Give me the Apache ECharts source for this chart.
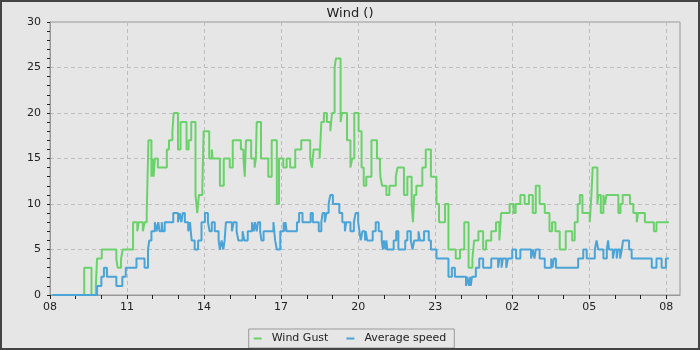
<!DOCTYPE html>
<html>
<head>
<meta charset="utf-8">
<script src="https://cdn.jsdelivr.net/npm/echarts@6.0.0/dist/echarts.min.js"></script>
<style>
  html, body { margin: 0; padding: 0; background: #e6e6e6; }
  #chart { width: 700px; height: 350px; }
</style>
</head>
<body>
<div id="chart"></div>
<script>
// minutes since 08:00, value in effect from that minute on
const gustPoints = [
  [6,0],[80,3],[97,0],[107,1],[110,4],[121,5],[155,4],[158,3],[166,4],[170,5],[194,8],[204,7],[207,8],[217,7],
  [221,8],[226,9],[228,13],[230,17],[237,13],[240,15],[242,13],[245,15],[252,14],[273,16],[278,17],[286,18],
  [289,20],[299,16],[305,19],[319,16],[324,17],[330,19],[340,11],[344,9],[348,11],[356,12],[359,18],[372,15],
  [378,16],[380,15],[397,12],[406,15],[420,14],[427,17],[446,16],[452,15],[455,13],[458,17],[470,15],[478,14],
  [481,15],[483,19],[493,15],[510,13],[518,17],[530,10],[535,15],[545,14],[553,15],[561,14],[573,16],[587,17],
  [608,15],[612,14],[616,16],[630,15],[634,19],[640,20],[647,19],[655,18],[659,20],[665,25],[668,26],[679,19],
  [682,20],[694,17],[702,14],[706,15],[711,20],[721,18],[728,14],[733,12],[739,13],[751,17],[764,15],[771,14],
  [772,13],[776,12],[786,11],[793,12],[808,13],[812,14],[827,11],[835,13],[845,10],[848,8],[851,11],[856,12],
  [870,14],[878,16],[890,13],[903,10],[909,8],[923,10],[931,5],[948,4],[958,5],[968,8],[978,3],[987,4],[991,6],
  [1001,7],[1012,5],[1019,6],[1031,7],[1042,8],[1050,6],[1054,9],[1074,10],[1083,9],[1088,10],[1099,11],
  [1109,10],[1119,11],[1128,9],[1135,12],[1144,10],[1156,9],[1167,7],[1173,8],[1181,7],[1191,5],[1205,7],
  [1220,6],[1226,8],[1233,10],[1238,11],[1244,9],[1261,8],[1265,11],[1268,14],[1279,10],[1281,11],[1287,9],
  [1293,11],[1297,10],[1300,11],[1328,9],[1333,10],[1338,11],[1355,10],[1363,9],[1371,8],[1374,9],[1390,8],
  [1411,7],[1417,8],[1446,8]
];

const avgPoints = [
  [6,0],[110,1],[120,2],[126,3],[133,2],[155,1],[169,2],[177,3],[202,4],[221,3],[229,5],[232,6],[237,7],[245,8],
  [249,7],[253,8],[256,7],[261,8],[263,7],[268,8],[288,9],[299,8],[303,9],[307,8],[310,9],[315,8],[323,7],[327,8],
  [331,6],[338,5],[346,6],[354,8],[362,9],[369,8],[373,7],[378,8],[385,7],[394,6],[397,5],[401,6],[405,5],[408,6],
  [411,8],[425,7],[429,8],[436,7],[440,6],[450,7],[454,6],[462,7],[472,8],[476,7],[479,8],[483,7],[486,8],[491,7],
  [494,6],[499,7],[522,8],[526,6],[530,5],[538,7],[546,8],[548,7],[550,8],[553,7],[577,8],[582,9],[590,8],[609,9],
  [614,8],[628,7],[634,8],[637,9],[642,8],[646,9],[651,10],[655,11],[661,10],[676,9],[683,8],[689,7],[692,8],
  [702,7],[710,8],[714,9],[720,8],[723,7],[726,6],[730,7],[736,6],[738,7],[741,6],[754,7],[761,8],[768,7],[775,6],
  [778,5],[780,6],[784,5],[786,6],[788,5],[803,6],[809,7],[814,5],[830,6],[835,7],[843,6],[847,5],[851,6],[861,7],
  [864,6],[874,7],[885,6],[890,5],[903,4],[931,2],[939,3],[946,2],[972,1],[975,2],[979,1],[982,2],[983,1],[986,2],
  [995,3],[1003,4],[1012,3],[1031,4],[1047,3],[1050,4],[1055,3],[1058,4],[1066,3],[1070,4],[1080,5],[1089,4],
  [1099,5],[1124,4],[1128,5],[1132,4],[1135,5],[1144,4],[1156,3],[1171,4],[1174,3],[1177,4],[1182,3],[1234,4],
  [1246,5],[1254,4],[1273,5],[1277,6],[1281,5],[1293,4],[1301,5],[1304,6],[1306,5],[1315,4],[1319,5],[1324,4],
  [1327,5],[1332,4],[1336,5],[1339,6],[1353,5],[1359,4],[1406,3],[1417,4],[1429,3],[1439,4],[1446,4]
];

const seriesNames = ['Wind Gust', 'Average speed'];
const startHour = 8;
const hourTicks = [];
for (let m = 0; m <= 1440; m += 60) hourTicks.push(m);

const gridDash = { color: '#bdbdbd', type: [4, 3] };

const chart = echarts.init(document.getElementById('chart'), null, { renderer: 'canvas' });

chart.setOption({
  animation: false,
  backgroundColor: '#e6e6e6',
  textStyle: { fontFamily: 'DejaVu Sans', color: '#222' },
  graphic: [{
    type: 'rect',
    shape: { x: 1, y: 1, width: 698, height: 348 },
    style: { fill: 'none', stroke: '#444', lineWidth: 2 },
    z: 100
  }],
  title: {
    text: 'Wind ()',
    left: 'center',
    top: 2,
    textStyle: { fontSize: 13, fontWeight: 'normal', color: '#222', fontFamily: 'DejaVu Sans' }
  },
  legend: {
    bottom: 2,
    left: 'center',
    icon: 'rect',
    itemWidth: 8,
    itemHeight: 2,
    itemGap: 18,
    padding: [4, 8, 4, 5],
    borderColor: '#999',
    borderWidth: 1,
    borderRadius: 0,
    textStyle: { fontSize: 11, color: '#222', padding: [0, 0, 0, 5] },
    data: seriesNames
  },
  grid: {
    left: 50, right: 20, top: 22, bottom: 55,
    show: true,
    borderColor: '#999',
    borderWidth: 1,
    backgroundColor: 'transparent'
  },
  xAxis: [
    {
      type: 'value',
      min: 0,
      max: 1472,
      interval: 180,
      axisLine: { show: true, lineStyle: { color: '#999' } },
      axisTick: { show: true, length: 4, customValues: hourTicks, lineStyle: { color: '#222' } },
      axisLabel: {
        fontSize: 11,
        color: '#222',
        margin: 7,
        showMaxLabel: false,
        formatter: (v) => {
          if (v % 180 !== 0) return '';
          const h = (startHour + v / 60) % 24;
          return String(h).padStart(2, '0');
        }
      },
      splitLine: { show: false }
    },
    {
      // only carries the 3-hourly vertical grid lines
      type: 'value',
      position: 'bottom',
      min: 0,
      max: 1472,
      interval: 180,
      axisLine: { show: false },
      axisTick: { show: false },
      axisLabel: { show: false },
      splitLine: { show: true, lineStyle: gridDash }
    }
  ],
  yAxis: {
    type: 'value',
    min: 0,
    max: 30,
    interval: 5,
    axisLine: { show: true, lineStyle: { color: '#999' } },
    axisTick: { show: true, length: 3, lineStyle: { color: '#222' } },
    minorTick: { show: true, splitNumber: 5, length: 3, lineStyle: { color: '#222' } },
    axisLabel: { fontSize: 11, color: '#222', margin: 9 },
    splitLine: { show: true, lineStyle: gridDash }
  },
  series: [
    {
      name: seriesNames[0],
      type: 'line',
      step: 'end',
      showSymbol: false,
      color: '#6bd26b',
      lineStyle: { width: 2, color: '#6bd26b' },
      data: gustPoints
    },
    {
      name: seriesNames[1],
      type: 'line',
      step: 'end',
      showSymbol: false,
      color: '#4ba4d8',
      lineStyle: { width: 2, color: '#4ba4d8' },
      data: avgPoints
    }
  ]
});
</script>
</body>
</html>
